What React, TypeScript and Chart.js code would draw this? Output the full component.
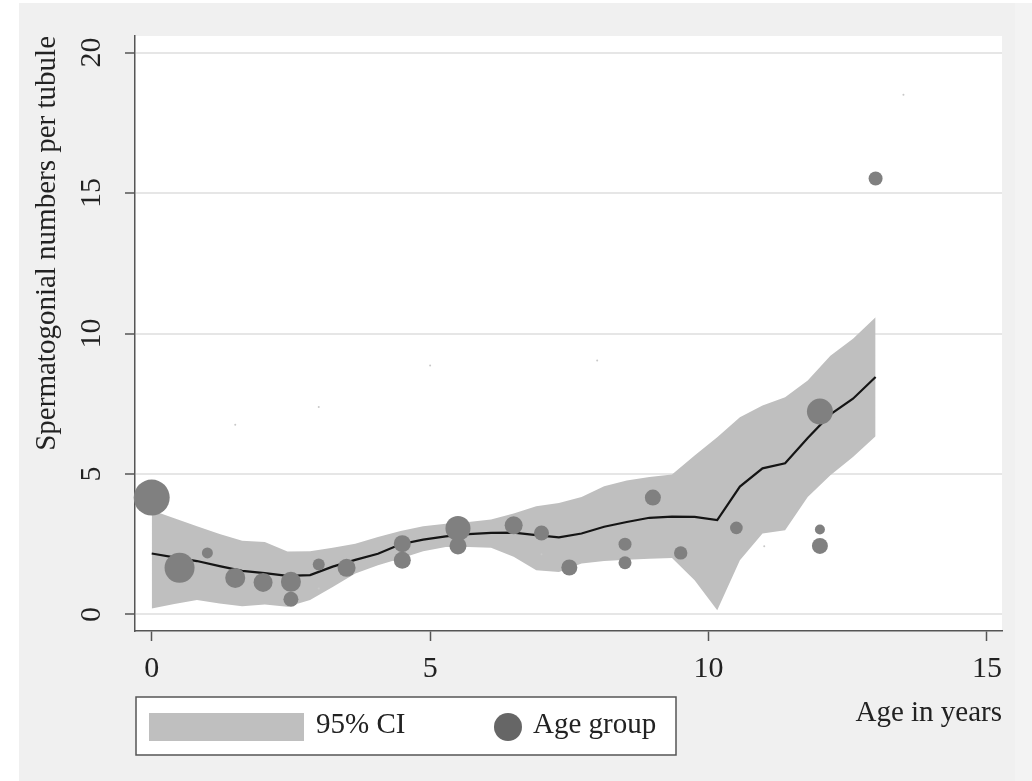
import React, { useEffect, useRef } from 'react';
import { Chart, registerables } from 'chart.js';

Chart.register(...registerables);

// ---- data ----
const ageGrid = [
  0, 0.406, 0.813, 1.219, 1.625, 2.031, 2.438, 2.844, 3.25, 3.656, 4.063,
  4.469, 4.875, 5.281, 5.688, 6.094, 6.5, 6.906, 7.313, 7.719, 8.125, 8.531,
  8.938, 9.344, 9.75, 10.156, 10.563, 10.969, 11.375, 11.781, 12.188, 12.594, 13,
];
const smoothMean = [
  2.17, 2.03, 1.9, 1.72, 1.55, 1.47, 1.37, 1.4, 1.7, 1.94, 2.16,
  2.5, 2.66, 2.78, 2.86, 2.9, 2.91, 2.82, 2.74, 2.88, 3.12, 3.29,
  3.44, 3.48, 3.47, 3.36, 4.55, 5.2, 5.38, 6.28, 7.12, 7.68, 8.45,
];
const ciLower = [
  0.21, 0.37, 0.51, 0.39, 0.29, 0.35, 0.27, 0.51, 0.98, 1.46, 1.75,
  1.99, 2.25, 2.4, 2.4, 2.37, 2.05, 1.57, 1.51, 1.81, 1.9, 1.95,
  1.98, 2.01, 1.22, 0.15, 1.93, 2.88, 3.0, 4.18, 4.95, 5.6, 6.34,
];
const ciUpper = [
  3.71, 3.42, 3.14, 2.86, 2.62, 2.58, 2.24, 2.25, 2.37, 2.52, 2.76,
  2.97, 3.14, 3.23, 3.29, 3.38, 3.59, 3.85, 3.97, 4.18, 4.56, 4.77,
  4.89, 4.98, 5.66, 6.31, 7.02, 7.44, 7.73, 8.33, 9.21, 9.81, 10.58,
];

const groupAge = [
  0, 0.5, 1, 1.5, 2, 2.5, 2.5, 3, 3.5, 4.5, 4.5, 5.5, 5.5,
  6.5, 7, 7.5, 8.5, 8.5, 9, 9.5, 10.5, 12, 12, 12, 13,
];
const groupCount = [
  4.16, 1.66, 2.19, 1.3, 1.14, 1.16, 0.54, 1.78, 1.66, 2.52, 1.93, 3.06, 2.44,
  3.17, 2.9, 1.67, 2.5, 1.84, 4.16, 2.19, 3.08, 7.22, 3.02, 2.44, 15.52,
];
const groupSize = [
  18, 15, 5.5, 10, 9.5, 10, 7.5, 6, 9, 8.5, 8.5, 12.5, 8.5,
  9, 7.5, 8, 6.5, 6.5, 8, 6.7, 6.3, 13, 5, 8, 7,
];

const faintAge = [1.5, 3, 3, 5, 7, 8, 11, 13.5];
const faintCount = [6.75, 7.38, 0.92, 8.86, 2.14, 9.04, 2.43, 18.5];

const xTicks = [0, 5, 10, 15];
const yTicks = [0, 5, 10, 15, 20];
const legendLabels = ['95% CI', 'Age group'];
const xTitle = 'Age in years';
const yTitle = 'Spermatogonial numbers per tubule';

const FONT = "'Liberation Serif', 'Times New Roman', serif";

const backdrop = {
  id: 'backdrop',
  beforeDraw(chart: any) {
    const { ctx, chartArea: a, width, height } = chart;
    ctx.save();
    ctx.fillStyle = '#ffffff';
    ctx.fillRect(0, 0, width, height);
    ctx.fillStyle = '#f0f0f0';
    ctx.fillRect(19, 3, width - 19, height - 3);
    ctx.fillStyle = '#f3f3f3';
    ctx.fillRect(1015, 3, width - 1015, height - 3);
    ctx.fillStyle = '#ffffff';
    ctx.fillRect(a.left, a.top, a.right - a.left, a.bottom - a.top);
    ctx.restore();
  },
};

const legendBox = {
  id: 'legendBox',
  afterDraw(chart: any) {
    const ctx = chart.ctx;
    const a = chart.chartArea;
    const left = a.left + 1;
    const top = chart.scales.x.bottom - 34;
    const w = 540;
    const h = 58;
    ctx.save();
    ctx.fillStyle = '#ffffff';
    ctx.fillRect(left, top, w, h);
    ctx.strokeStyle = '#555555';
    ctx.lineWidth = 1.5;
    ctx.strokeRect(left, top, w, h);
    ctx.fillStyle = '#bfbfbf';
    ctx.fillRect(left + 13, top + 16, 155, 28);
    ctx.font = `29px ${FONT}`;
    ctx.textBaseline = 'alphabetic';
    ctx.textAlign = 'left';
    ctx.fillStyle = '#222222';
    ctx.fillText(legendLabels[0], left + 180, top + 36);
    ctx.fillStyle = '#666666';
    ctx.beginPath();
    ctx.arc(left + 372, top + 30, 14, 0, Math.PI * 2);
    ctx.fill();
    ctx.fillStyle = '#222222';
    ctx.fillText(legendLabels[1], left + 397, top + 36);
    ctx.restore();
  },
};

export default function App() {
  const ref = useRef<HTMLCanvasElement | null>(null);

  useEffect(() => {
    document.body.style.margin = '0';
    const canvas = ref.current;
    if (!canvas) return;

    const bubbles = groupAge.map((x, i) => ({ x, y: groupCount[i], r: groupSize[i] }));
    const faint = faintAge.map((x, i) => ({ x, y: faintCount[i], r: 1 }));
    const mean = ageGrid.map((x, i) => ({ x, y: smoothMean[i] }));
    const lower = ageGrid.map((x, i) => ({ x, y: ciLower[i] }));
    const upper = ageGrid.map((x, i) => ({ x, y: ciUpper[i] }));

    const chart = new Chart(canvas, {
      type: 'line',
      data: {
        datasets: [
          {
            type: 'bubble',
            label: legendLabels[1],
            data: bubbles,
            backgroundColor: '#808080',
            borderWidth: 0,
            clip: false,
          } as any,
          {
            type: 'bubble',
            label: 'trace',
            data: faint,
            backgroundColor: '#c8c8c8',
            borderWidth: 0,
          } as any,
          {
            type: 'line',
            label: 'fit',
            data: mean,
            borderColor: '#151515',
            borderWidth: 2.2,
            pointRadius: 0,
            tension: 0,
            fill: false,
          },
          {
            type: 'line',
            label: 'lower',
            data: lower,
            borderColor: 'rgba(0,0,0,0)',
            borderWidth: 0,
            pointRadius: 0,
            tension: 0,
            fill: false,
          },
          {
            type: 'line',
            label: legendLabels[0],
            data: upper,
            borderColor: 'rgba(0,0,0,0)',
            backgroundColor: '#bfbfbf',
            borderWidth: 0,
            pointRadius: 0,
            tension: 0,
            fill: '-1',
          },
        ],
      },
      options: {
        responsive: false,
        maintainAspectRatio: false,
        animation: false,
        events: [],
        layout: { padding: { left: 20, right: 30, top: 35, bottom: 50 } },
        plugins: {
          legend: { display: false },
          tooltip: { enabled: false },
        },
        scales: {
          x: {
            type: 'linear',
            min: -0.3,
            max: 15.27,
            afterBuildTicks: (s: any) => {
              s.ticks = xTicks.map((v) => ({ value: v }));
            },
            afterFit: (s: any) => {
              s.height = 100;
            },
            ticks: {
              padding: 10,
              autoSkip: false,
              maxRotation: 0,
              color: '#222222',
              font: { family: FONT, size: 30 },
            },
            grid: {
              drawOnChartArea: false,
              tickColor: '#555555',
              tickLength: 10,
              tickWidth: 1.5,
            },
            border: { display: true, color: '#555555', width: 1.5 },
            title: {
              display: true,
              text: xTitle,
              align: 'end',
              color: '#222222',
              font: { family: FONT, size: 29 },
              padding: { top: 0, bottom: 0 },
            },
          },
          y: {
            type: 'linear',
            min: -0.59,
            max: 20.59,
            afterBuildTicks: (s: any) => {
              s.ticks = yTicks.map((v) => ({ value: v }));
            },
            afterFit: (s: any) => {
              s.width = 115;
            },
            ticks: {
              minRotation: 90,
              maxRotation: 90,
              crossAlign: 'center',
              padding: 18,
              autoSkip: false,
              color: '#222222',
              font: { family: FONT, size: 30 },
            },
            grid: {
              color: '#e6e6e6',
              lineWidth: 2,
              tickColor: '#555555',
              tickLength: 10,
              tickWidth: 1.5,
            },
            border: { display: true, color: '#555555', width: 1.5 },
            title: {
              display: true,
              text: yTitle,
              align: 'end',
              color: '#222222',
              font: { family: FONT, size: 29 },
              padding: { top: 10, bottom: 0 },
            },
          },
        },
      } as any,
      plugins: [backdrop, legendBox],
    });

    return () => {
      chart.destroy();
    };
  }, []);

  return (
    <div style={{ width: 1032, height: 781 }}>
      <canvas ref={ref} width={1032} height={781} style={{ display: 'block' }} />
    </div>
  );
}
